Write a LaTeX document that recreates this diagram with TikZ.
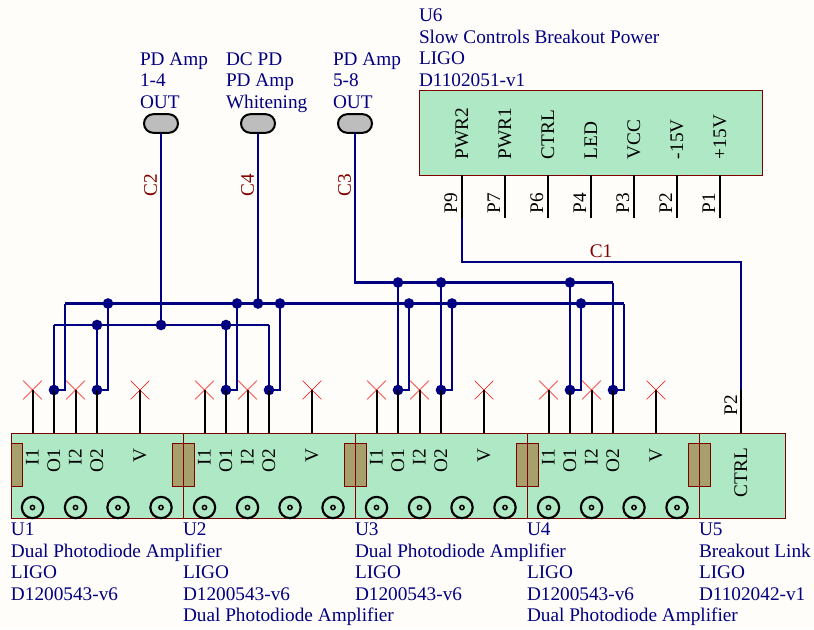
\documentclass[tikz,border=0pt]{standalone}
\usepackage{fontspec}
\setmainfont{Liberation Serif}
\usetikzlibrary{positioning,shapes.misc}
\definecolor{paper}{HTML}{FFFDF9}
\definecolor{partfill}{HTML}{AEE8C4}
\definecolor{tabfill}{HTML}{A8A06C}
\definecolor{portfill}{HTML}{BDBDBD}
\definecolor{netblue}{HTML}{000080}
\definecolor{partred}{HTML}{800000}

\begin{document}
\begin{tikzpicture}[x=0.75pt, y=-0.75pt,
    every node/.style = {inner sep=0pt, outer sep=0pt, font=\fontsize{14.45}{16.12}\selectfont},
    part/.style = {draw=partred, fill=partfill, line width=0.6pt, rectangle},
    tab/.style = {draw=partred, fill=tabfill, line width=0.6pt, rectangle, minimum height=32.25pt},
    pinline/.style = {black, line width=1.5pt},
    wire/.style = {netblue, line width=1.6pt},
    junction/.style = {circle, fill=netblue, minimum size=8pt},
    nocon/.style = {cross out, draw=red, line width=0.5pt, minimum size=14pt},
    port/.style = {rounded rectangle, draw=black, fill=portfill, line width=1.5pt, minimum width=25.5pt, minimum height=14pt},
    bnc/.style = {circle, draw=black, line width=1.6pt, minimum size=16pt},
    bncpin/.style = {circle, draw=black, line width=1.1pt, minimum size=3.2pt},
    partname/.style = {text=netblue, align=left, anchor=north west},
    pinname/.style = {text=black, xshift=2.25pt, rotate=90},
    netname/.style = {text=partred}]

    \fill[paper] (0,0) rectangle (814,629);
    \useasboundingbox (0,0) rectangle (814,629);

    % parts
    \foreach \n/\x in {1/11, 2/183, 3/355, 4/527}
        \node[part, minimum width=129pt, minimum height=63.75pt] (u\n) at (\x+86,475.5) {};
    \node[part, minimum width=64.5pt, minimum height=63.75pt] (u5) at (742,475.5) {};
    \node[part, minimum width=257.25pt, minimum height=63.75pt] (u6) at (590.5,132.5) {};

    % link tabs
    \node[tab, minimum width=8.25pt] (tab0) at (16.5,464.5) {};
    \foreach \n/\x in {1/183, 2/355, 3/527, 4/699}
        \node[tab, minimum width=16.5pt] (tab\n) at (\x,464.5) {};
    \foreach \n in {1,...,4}
        \draw[partred, line width=0.6pt] (u\n.north east) -- (u\n.south east);
    \draw[partred, line width=0.6pt] (u1.north west) -- (u1.south west);

    % amplifier pins and connectors
    \foreach \n/\x in {1/11, 2/183, 3/355, 4/527} {
        \node[nocon] (x\n i) at (\x+21.5,390) {};
        \node[nocon] (x\n j) at (\x+64.5,390) {};
        \node[nocon] (x\n v) at (\x+129,390) {};
        \node[junction] (d\n a) at (\x+43,390) {};
        \node[junction] (d\n b) at (\x+86,390) {};
        \foreach \p in {x\n i, x\n j, x\n v, d\n a, d\n b}
            \draw[pinline] (\p.center) -- (\p.center |- u\n.north);
        \node[pinname, anchor=mid east] (li\n) at (\x+21.5,449) {I1};
        \node[pinname, anchor=mid east] (lo\n) at (\x+43,449) {O1};
        \node[pinname, anchor=mid east] (lj\n) at (\x+64.5,449) {I2};
        \node[pinname, anchor=mid east] (lp\n) at (\x+86,449) {O2};
        \node[pinname, anchor=mid east] (lv\n) at (\x+129,449) {V};
        \foreach \k/\off in {1/21.5, 2/64.5, 3/107, 4/150} {
            \node[bnc] (b\n\k) at (\x+\off,507.5) {};
            \node[bncpin] (c\n\k) at (b\n\k.center) {};
        }
    }

    % breakout link
    \coordinate (p2top) at (741,390);
    \draw[pinline] (p2top) -- (p2top |- u5.north);
    \node[pinname, anchor=mid west] (p2name) at (731,415) {P2};
    \node[pinname, anchor=mid east] (ctrlname) at (741,448) {CTRL};

    % power connector
    \foreach \n/\x/\sig/\pad in {9/462/PWR2/P9, 7/505/PWR1/P7, 6/548/CTRL/P6, 4/591/LED/P4, 3/634/VCC/P3, 2/677/-15V/P2, 1/720/+15V/P1} {
        \coordinate (q\n) at (\x,218);
        \draw[pinline] (q\n) -- (q\n |- u6.south);
        \node[pinname, anchor=mid west] (sig\n) at (\x,159) {\sig};
        \node[pinname, anchor=mid west] (pad\n) at (\x-11,213) {\pad};
    }

    % off-sheet ports
    \node[port] (port1) at (161,123.5) {};
    \node[port] (port2) at (258,123.5) {};
    \node[port] (port3) at (355,123.5) {};

    % junctions
    \foreach \name/\px/\py in {t1b/108/303.5, t2a/237/303.5, t2b/280/303.5, t3a/409/303.5, t3b/452/303.5, t4a/581/303.5, tc/258/303.5,
        m1b/97/325, m2a/226/325, mc/161/325, m3a/398/282.5, m3b/441/282.5, m4a/570/282.5}
        \node[junction] (\name) at (\px,\py) {};
    \coordinate (t1a) at (65,303.5);
    \coordinate (t4b) at (624,303.5);
    \coordinate (m1a) at (54,325);
    \coordinate (m2b) at (269,325);
    \coordinate (m4b) at (613,282.5);
    \coordinate (c1corner) at (741,262);

    % nets
    \foreach \n in {1,...,4} {
        \draw[wire] (d\n a.center) -- (m\n a.center);
        \draw[wire] (d\n b.center) -- (m\n b.center);
        \draw[wire] (d\n a.center) -| (t\n a.center);
        \draw[wire] (d\n b.center) -| (t\n b.center);
    }
    \draw[wire] (t1a) -- (t4b);
    \draw[wire] (m1a) -- (m2b);
    \draw[wire] (port1) -- (mc.center);
    \draw[wire] (port2) -- (tc.center);
    \draw[wire] (port3) |- (m4b);
    \draw[wire] (q9) |- (c1corner) -- (p2top);

    % net names
    \node[netname, rotate=90] (c2) at (150.5,185.5) {C2};
    \node[netname, rotate=90] (c4) at (247.5,185.5) {C4};
    \node[netname, rotate=90] (c3) at (344.5,185.5) {C3};
    \node[netname] (c1) at (601,251) {C1};

    % part names
    \node[partname] (name1) at (11,523) {U1\\Dual Photodiode Amplifier\\LIGO\\D1200543-v6};
    \node[partname] (name2) at (183,523) {U2\\[0pt]\phantom{x}\\LIGO\\D1200543-v6\\Dual Photodiode Amplifier};
    \node[partname] (name3) at (355,523) {U3\\Dual Photodiode Amplifier\\LIGO\\D1200543-v6};
    \node[partname] (name4) at (527,523) {U4\\[0pt]\phantom{x}\\LIGO\\D1200543-v6\\Dual Photodiode Amplifier};
    \node[partname] (name5) at (699,523) {U5\\Breakout Link\\LIGO\\D1102042-v1};
    \node[partname] (name6) at (419,9) {U6\\Slow Controls Breakout Power\\LIGO\\D1102051-v1};
    \node[partname] (name7) at (140,52.5) {PD Amp\\1-4\\OUT};
    \node[partname] (name8) at (226,52.5) {DC PD\\PD Amp\\Whitening};
    \node[partname] (name9) at (333,52.5) {PD Amp\\5-8\\OUT};

\end{tikzpicture}
\end{document}
